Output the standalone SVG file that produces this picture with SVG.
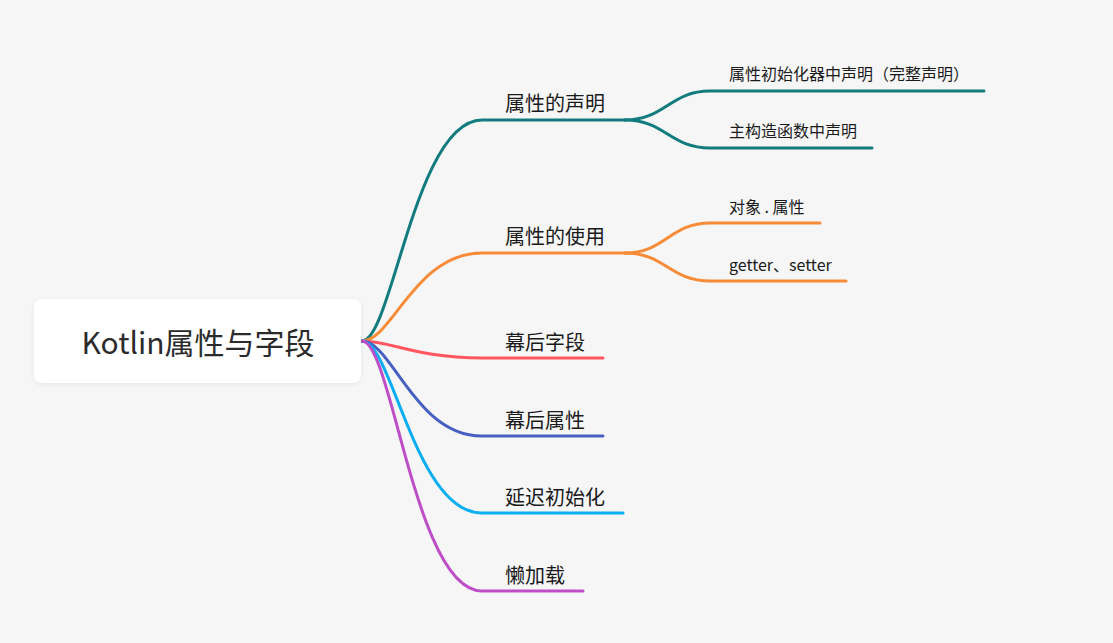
<svg xmlns="http://www.w3.org/2000/svg" width="1113" height="643" viewBox="0 0 1113 643">
<defs>
<filter id="sh" x="-10%" y="-20%" width="120%" height="150%">
<feDropShadow dx="0" dy="1" stdDeviation="2" flood-color="#000" flood-opacity="0.08"/>
</filter>
</defs>
<style>
.t{font-family:"Microsoft YaHei","Noto Sans CJK SC","Noto Sans",sans-serif;fill:#1a1a1a}
.m{font-size:20px}
.s{font-size:16px}
.c{fill:none;stroke-width:3;stroke-linecap:round}
</style>
<rect width="1113" height="643" fill="#f6f6f6"/>
<g id="connectors">
<path class="c" stroke="#127b7e" d="M362,341 C392,341 415,120 482,120 L625,120"/>
<path class="c" stroke="#127b7e" d="M625,120 C665,120 670,91 710,91 L984,91"/>
<path class="c" stroke="#127b7e" d="M625,120 C665,120 670,148 710,148 L872,148"/>
<path class="c" stroke="#f78b38" d="M362,341 C392,341 415,253 482,253 L625,253"/>
<path class="c" stroke="#f78b38" d="M625,253 C665,253 670,223 710,223 L820,223"/>
<path class="c" stroke="#f78b38" d="M625,253 C665,253 670,281 710,281 L846,281"/>
<path class="c" stroke="#ff5660" d="M362,341 C392,341 415,358 482,358 L603,358"/>
<path class="c" stroke="#4660c2" d="M362,341 C392,341 415,436 482,436 L603,436"/>
<path class="c" stroke="#08aef0" d="M362,341 C392,341 415,513 482,513 L623,513"/>
<path class="c" stroke="#bd4ec8" d="M362,341 C392,341 415,591 482,591 L583,591"/>
</g>
<g id="root">
<rect x="34" y="299" width="327" height="84" rx="8" fill="#ffffff" filter="url(#sh)"/>
<text class="t" x="198" y="354" font-size="30" text-anchor="middle" style="fill:#2b2b2b">Kotlin属性与字段</text>
</g>
<g id="n1"><text class="t m" x="505" y="111">属性的声明</text></g>
<g id="n1a"><text class="t s" x="729" y="80">属性初始化器中声明（完整声明）</text></g>
<g id="n1b"><text class="t s" x="729" y="137">主构造函数中声明</text></g>
<g id="n2"><text class="t m" x="505" y="244">属性的使用</text></g>
<g id="n2a"><text class="t s" x="729" y="213">对象 . 属性</text></g>
<g id="n2b"><text class="t s" x="729" y="271">getter、setter</text></g>
<g id="n3"><text class="t m" x="505" y="350">幕后字段</text></g>
<g id="n4"><text class="t m" x="505" y="428">幕后属性</text></g>
<g id="n5"><text class="t m" x="505" y="505">延迟初始化</text></g>
<g id="n6"><text class="t m" x="505" y="583">懒加载</text></g>
</svg>
